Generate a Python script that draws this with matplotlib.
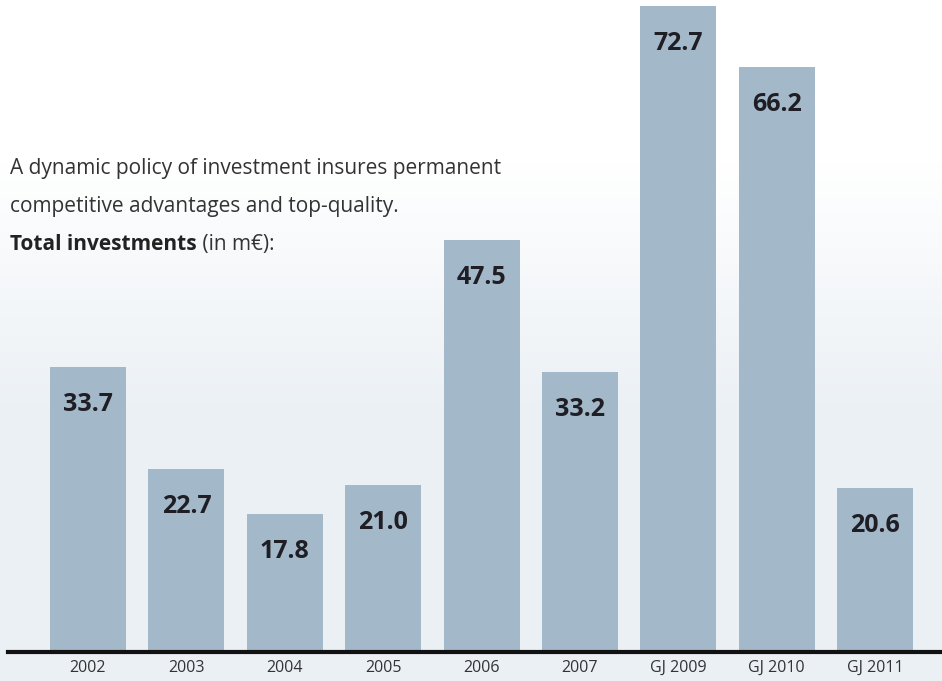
#!/usr/bin/python3
# total investments bar chart
import numpy as np
import matplotlib.pyplot as plt

years = ["2002", "2003", "2004", "2005", "2006", "2007", "GJ 2009", "GJ 2010", "GJ 2011"]
invest = [33.7, 22.7, 17.8, 21.0, 47.5, 33.2, 72.7, 66.2, 20.6]
labels = ["33.7", "22.7", "17.8", "21.0", "47.5", "33.2", "72.7", "66.2", "20.6"]

plt.rcParams["font.family"] = ["Open Sans", "DejaVu Sans"]

fig = plt.figure(figsize=(9.42, 6.81), dpi=100)

# background wash, white on top fading into pale blue-grey
bg = fig.add_axes([0, 0, 1, 1])
t = np.linspace(0, 1, 256)[:, None]
w = np.clip((t - 0.24) / 0.35, 0, 1)
top = np.array([1.0, 1.0, 1.0])
bot = np.array([0.925, 0.945, 0.962])
grad = top * (1 - w[..., None]) + bot * w[..., None]
grad = np.repeat(grad, 2, axis=1)
bg.imshow(grad, aspect="auto", extent=[0, 1, 0, 1], origin="upper")
bg.set_axis_off()

ax = fig.add_axes([8 / 942, 29 / 681, 1 - 8 / 942, 652 / 681])
ax.patch.set_alpha(0)
x = np.arange(len(years))
ax.bar(x, invest, width=0.772, color="#a3b8c8", zorder=2)
ax.set_xlim(-0.813, 8.68)
ax.set_ylim(2.91, 73.4)

for xi, v, lab in zip(x, invest, labels):
    ax.annotate(lab, (xi, v), xytext=(0, -44), textcoords="offset pixels",
                ha="center", va="baseline", fontsize=18, fontweight="bold",
                color="#1e1e24", zorder=3)

for s in ["top", "left", "right"]:
    ax.spines[s].set_visible(False)
ax.spines["bottom"].set_linewidth(3)
ax.spines["bottom"].set_color("#111111")
ax.spines["bottom"].set_zorder(4)
ax.set_yticks([])
ax.set_xticks(x)
ax.set_xticklabels(years, fontsize=11.5, color="#333333")
ax.tick_params(axis="x", length=0, pad=5.5)

fig.text(10 / 942, 1 - 174 / 681, "A dynamic policy of investment insures permanent",
         fontsize=15, color="#333333", va="baseline")
fig.text(10 / 942, 1 - 212 / 681, "competitive advantages and top-quality.",
         fontsize=15, color="#333333", va="baseline")
t1 = fig.text(10 / 942, 1 - 250 / 681, "Total investments",
              fontsize=15, fontweight="bold", color="#222222", va="baseline")
ax.annotate(" (in m\u20ac):", xy=(1, 0), xycoords=t1, va="bottom", ha="left",
            fontsize=15, color="#333333", annotation_clip=False)

fig.savefig("out.png", dpi=100)
